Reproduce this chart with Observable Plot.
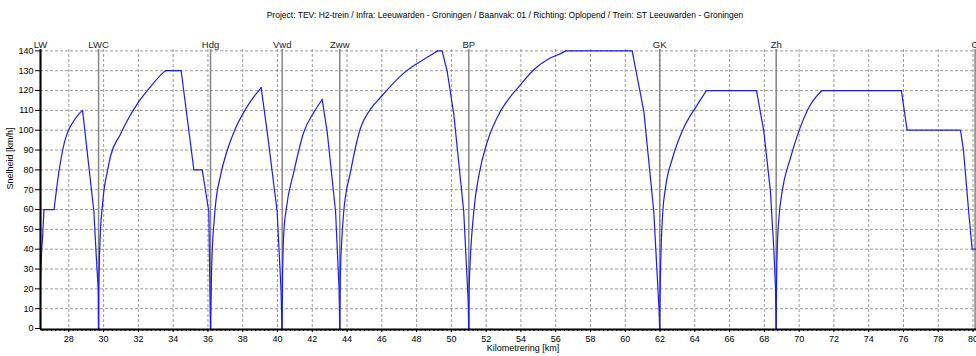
<!DOCTYPE html>
<html>
<head>
<meta charset="utf-8">
<script src="https://cdn.jsdelivr.net/npm/d3@7"></script>
<script src="https://cdn.jsdelivr.net/npm/@observablehq/plot@0.6"></script>
<style>
  html, body { margin: 0; padding: 0; background: #fff; overflow: hidden; width: 976px; height: 356px; }
  #title { position: absolute; left: 0; top: 0; width: 1010px; height: 30px; line-height: 30px; text-align: center;
           font-family: "Liberation Sans", Arial, sans-serif; font-size: 8.5px; color: #000; white-space: nowrap; }
  #chart { position: absolute; left: 0; top: 30px; }
</style>
</head>
<body>
<div id="title">Project: TEV: H2-trein / Infra: Leeuwarden - Groningen / Baanvak: 01 / Richting: Oplopend / Trein: ST Leeuwarden - Groningen</div>
<div id="chart"></div>
<script>
// Speed profile: kilometre position and speed (km/h)
const positionKm = [
  26.37, 26.43, 26.49, 26.57, 27.15, 27.29, 27.41, 27.58, 27.75, 27.98, 28.27, 28.56, 28.79,
  29.44, 29.58, 29.69, 29.71,
  29.72, 29.76, 29.82, 29.92, 30.01, 30.21, 30.40, 30.97, 31.16, 32.03, 32.75, 33.46, 33.56, 34.46, 35.19, 35.67, 36.05, 36.12, 36.15,
  36.21, 36.40, 36.72, 37.01, 37.49, 38.26, 39.06, 39.41, 39.98, 40.20, 40.26,
  40.29, 40.36, 40.50, 40.94, 41.51, 42.09, 42.57, 42.86, 43.34, 43.54, 43.58,
  43.61, 43.70, 43.81, 44.20, 44.77, 45.30, 45.92, 47.26, 48.99, 49.20, 49.47, 49.76, 50.14, 50.71, 50.96, 51.00,
  51.02, 51.29, 51.60, 52.06, 52.82, 53.40, 53.79, 54.74, 55.60, 56.47, 56.56, 60.40, 60.53, 61.07, 61.64, 61.94, 61.98,
  62.00, 62.06, 62.16, 62.31, 62.72, 63.27, 64.14, 64.67, 67.55, 67.97, 68.35, 68.54, 68.64, 68.68,
  68.70, 68.74, 68.85, 69.02, 69.50, 69.98, 70.65, 71.32, 75.88, 76.21, 79.28, 79.45, 79.75, 79.95, 80.20
];
const speedKmh = [
  25, 38, 46, 60, 60, 70, 78, 87, 94, 100, 104.5, 108, 110,
  59, 36, 20, 0,
  15, 35, 50, 61, 69, 79, 87, 98, 101.5, 114.5, 122.5, 129.3, 130, 130, 80, 80, 59, 15, 0,
  30, 59, 77, 87, 99, 112, 121.5, 99, 59, 20, 0,
  25, 48, 60, 79, 99, 109, 115.5, 99, 59, 20, 0,
  25, 45, 59, 79, 101, 110, 116.5, 128.8, 138.8, 140, 140, 129.6, 108, 59, 15, 0,
  20, 59, 78, 94, 109.5, 117, 121, 130.5, 136, 139.5, 140, 140, 134, 109.4, 59, 10, 0,
  15, 40, 59, 70.8, 86, 99.4, 112.8, 120, 120, 99.4, 69, 40.6, 20.5, 0,
  20, 40, 57, 69, 86, 99.4, 112.8, 120, 120, 100, 100, 90, 59, 40, 40
];

// Stations
const stationNames = ["LW", "LWC", "Hdg", "Vwd", "Zww", "BP", "GK", "Zh", "G"];
const stationKm = [26.37, 29.71, 36.15, 40.27, 43.58, 51.00, 61.98, 68.68, 80.12];

// Axis ticks
const xTicks = [28, 30, 32, 34, 36, 38, 40, 42, 44, 46, 48, 50, 52, 54, 56, 58, 60, 62, 64, 66, 68, 70, 72, 74, 76, 78, 80];
const yTicks = [0, 10, 20, 30, 40, 50, 60, 70, 80, 90, 100, 110, 120, 130, 140];
const xDomain = [26.37, 80.2];
const yDomain = [-0.5, 140.7];

// Split the profile into accelerating runs (drawn smooth) and other runs (drawn straight)
const accelRows = [], otherRows = [];
{
  let run = 0, prevUp = null;
  for (let i = 0; i < positionKm.length - 1; i++) {
    const up = speedKmh[i + 1] > speedKmh[i];
    if (up !== prevUp) { run++; prevUp = up; }
    const target = up ? accelRows : otherRows;
    target.push({km: positionKm[i], v: speedKmh[i], run}, {km: positionKm[i + 1], v: speedKmh[i + 1], run});
  }
}
function dedupe(rows) {
  return rows.filter((r, i) => i === 0 || !(rows[i - 1].run === r.run && rows[i - 1].km === r.km && rows[i - 1].v === r.v));
}
const accel = dedupe(accelRows), other = dedupe(otherRows);

const stations = stationNames.map((n, i) => ({name: n, km: stationKm[i]}));
const minorX = [];
for (let t = 26.5; t <= 80.2; t += 0.25) minorX.push(+t.toFixed(2));

const chart = Plot.plot({
  width: 976,
  height: 326,
  marginLeft: 40,
  marginRight: 0,
  marginTop: 19,
  marginBottom: 27,
  style: {fontFamily: "'Liberation Sans', Arial, sans-serif", fontSize: "9px", color: "#000", background: "#fff", overflow: "visible"},
  x: {domain: xDomain},
  y: {domain: yDomain},
  marks: [
    Plot.gridX(xTicks, {stroke: "#9a9a9a", strokeOpacity: 1, strokeDasharray: "3,2"}),
    Plot.gridY(yTicks.filter(d => d > 0), {stroke: "#9a9a9a", strokeOpacity: 1, strokeDasharray: "3,2"}),
    Plot.ruleX(stations, {x: "km", stroke: "#858585", strokeWidth: 1.5}),
    Plot.line(other, {x: "km", y: "v", z: "run", stroke: "#1a1aff", strokeWidth: 1.2}),
    Plot.line(accel, {x: "km", y: "v", z: "run", stroke: "#1a1aff", strokeWidth: 1.2, curve: "monotone-x"}),
    Plot.text(stations, {x: "km", text: "name", frameAnchor: "top", dy: -8, fontSize: 9.5, fill: "#222"}),
    Plot.axisX(minorX, {tickSize: 2, tickFormat: () => "", stroke: "#000", label: null}),
    Plot.axisX(xTicks, {tickSize: 3, tickPadding: 3, tickFormat: d => String(d), label: null}),
    Plot.axisY(yTicks, {tickSize: 5, tickPadding: 2, tickFormat: d => String(d), label: null}),
    Plot.ruleX([xDomain[0]], {stroke: "#000", strokeWidth: 2}),
    Plot.ruleY([yDomain[0]], {stroke: "#000", strokeWidth: 2}),
    Plot.text(["Snelheid [km/h]"], {frameAnchor: "left", dx: -30, rotate: -90, text: d => d, fontSize: 9}),
    Plot.text(["Kilometrering [km]"], {x: () => 52.03, frameAnchor: "bottom", dy: 21, text: d => d, fontSize: 9, textAnchor: "start"})
  ]
});
document.getElementById("chart").appendChild(chart);
</script>
</body>
</html>
